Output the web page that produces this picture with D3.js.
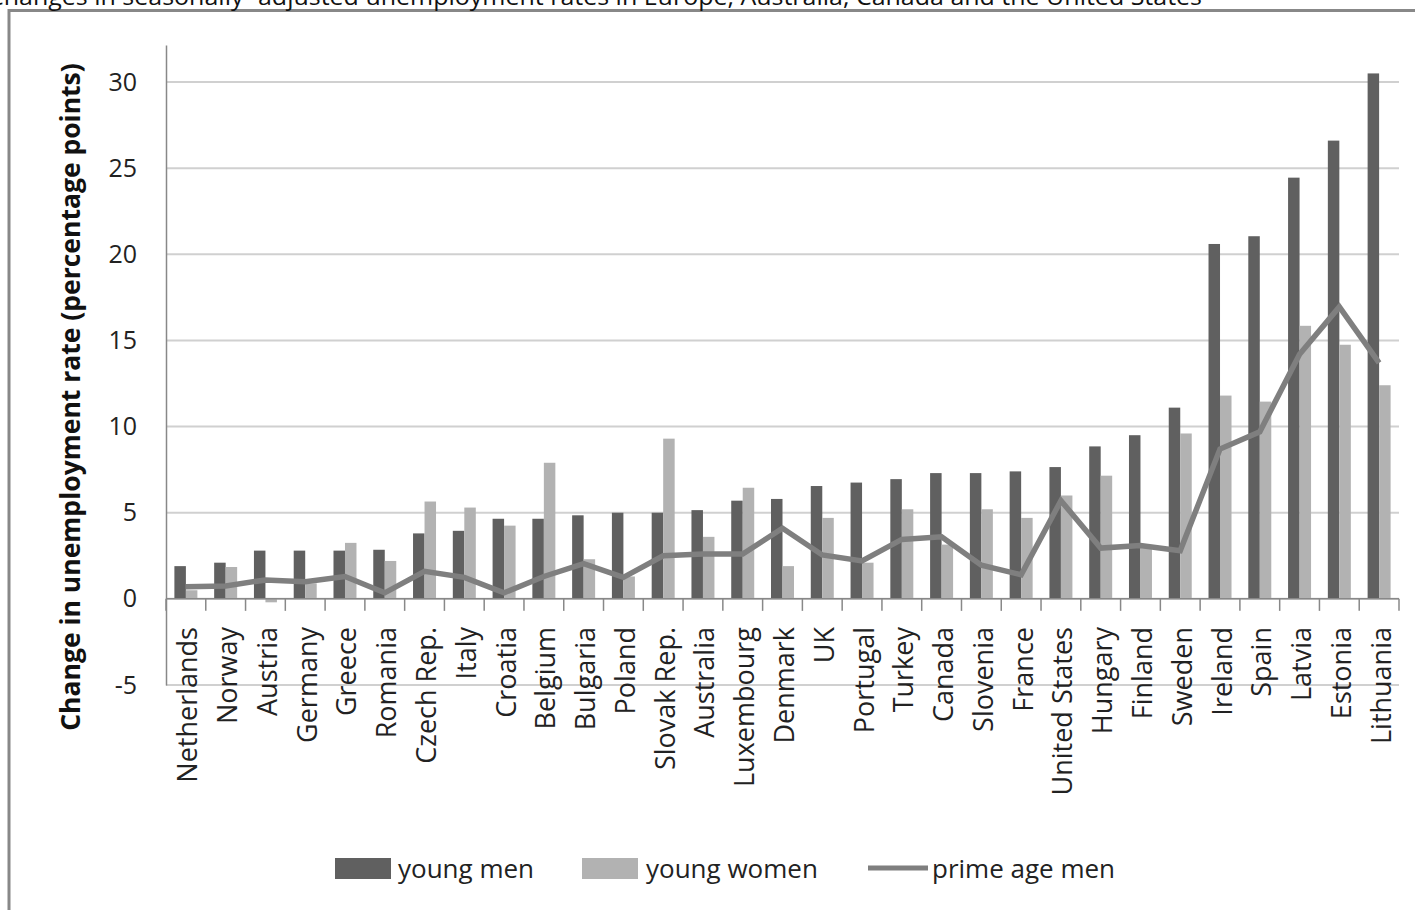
<!DOCTYPE html>
<html>
<head>
<meta charset="utf-8">
<script src="https://cdn.jsdelivr.net/npm/d3@7"></script>
<style>
  html, body { margin: 0; padding: 0; background: #fff; overflow: hidden; }
  svg { display: block; }
</style>
</head>
<body>
<svg id="chart" width="1415" height="910"></svg>
<script>
const titleText = "Changes in seasonally- adjusted unemployment rates in Europe, Australia, Canada and the United States";
const yAxisTitle = "Change in unemployment rate (percentage points)";
const categories = ["Netherlands","Norway","Austria","Germany","Greece","Romania","Czech Rep.","Italy","Croatia","Belgium","Bulgaria","Poland","Slovak Rep.","Australia","Luxembourg","Denmark","UK","Portugal","Turkey","Canada","Slovenia","France","United States","Hungary","Finland","Sweden","Ireland","Spain","Latvia","Estonia","Lithuania"];
const seriesNames = ["young men","young women","prime age men"];
const youngMen = [1.9,2.1,2.8,2.8,2.8,2.85,3.8,3.95,4.65,4.65,4.85,5.0,5.0,5.15,5.7,5.8,6.55,6.75,6.95,7.3,7.3,7.4,7.65,8.85,9.5,11.1,20.6,21.05,24.45,26.6,30.5];
const youngWomen = [0.5,1.85,-0.2,0.9,3.25,2.2,5.65,5.3,4.25,7.9,2.3,1.3,9.3,3.6,6.45,1.9,4.7,2.1,5.2,3.15,5.2,4.7,6.0,7.15,3.1,9.6,11.8,11.45,15.85,14.75,12.4];
const primeAgeMen = [0.7,0.75,1.1,1.0,1.3,0.35,1.6,1.25,0.35,1.3,2.05,1.25,2.5,2.6,2.6,4.1,2.55,2.2,3.45,3.6,1.95,1.4,5.7,2.95,3.1,2.8,8.7,9.7,14.2,16.95,13.7];
const yTicks = [-5,0,5,10,15,20,25,30];
const yTickLabels = ["-5","0","5","10","15","20","25","30"];
const yDomain = [-5, 32.15];

const colors = {"young men":"#606060","young women":"#b2b2b2","prime age men":"#7f7f7f"};

const svg = d3.select("#chart");

// outer frame
svg.append("rect").attr("x",9).attr("y",10.5).attr("width",1500).attr("height",1000)
  .attr("fill","none").attr("stroke","#888").attr("stroke-width",3);

// cut-off title (as in the reference, only its lower part shows)
svg.append("text").attr("x",-12).attr("y",5)
  .attr("font-family","Open Sans").attr("font-size",23)
  .attr("textLength",1214).attr("lengthAdjust","spacingAndGlyphs")
  .attr("fill","#111").text(titleText);

const plotLeft = 166, plotRight = 1399, plotTop = 45, plotBottom = 685;
const x = d3.scaleBand().domain(categories).range([plotLeft,plotRight]).paddingInner(0).paddingOuter(0);
const xs = d3.scaleBand().domain(["young men","young women"]).range([0,x.bandwidth()]).paddingInner(0).paddingOuter(0.73);
const y = d3.scaleLinear().domain(yDomain).range([plotBottom,plotTop]);

// gridlines
svg.append("g").selectAll("line").data(yTicks).join("line")
  .attr("x1",plotLeft).attr("x2",plotRight).attr("y1",d=>y(d)).attr("y2",d=>y(d))
  .attr("stroke","#d0d0d0").attr("stroke-width",2);

// y axis
const yAxis = svg.append("g").attr("transform",`translate(${plotLeft},0)`)
  .call(d3.axisLeft(y).tickValues(yTicks).tickSize(0).tickPadding(29)
    .tickFormat((d,i)=>yTickLabels[i]));
yAxis.select(".domain").attr("stroke","#888").attr("stroke-width",1.5);
yAxis.selectAll("text").attr("font-family","Open Sans").attr("font-size",25).attr("fill","#222");

// bars
const rows = categories.map((c,i)=>({c, vals:[{k:"young men",v:youngMen[i]},{k:"young women",v:youngWomen[i]}]}));
svg.append("g").selectAll("g").data(rows).join("g")
  .attr("transform",d=>`translate(${x(d.c)},0)`)
  .selectAll("rect").data(d=>d.vals).join("rect")
  .attr("x",d=>xs(d.k)).attr("width",xs.bandwidth())
  .attr("y",d=>y(Math.max(0,d.v))).attr("height",d=>Math.abs(y(d.v)-y(0)))
  .attr("fill",d=>colors[d.k]);

// x axis
const y0 = y(0);
svg.append("line").attr("x1",plotLeft).attr("x2",plotRight).attr("y1",y0).attr("y2",y0)
  .attr("stroke","#888").attr("stroke-width",1.5);
const bounds = categories.map(c=>x(c)).concat([plotRight]);
svg.append("g").selectAll("line").data(bounds).join("line")
  .attr("x1",d=>d).attr("x2",d=>d).attr("y1",y0).attr("y2",y0+12)
  .attr("stroke","#888").attr("stroke-width",1.5);

// line
const line = d3.line().x((d,i)=>x(categories[i])+x.bandwidth()/2).y(d=>y(d));
svg.append("path").datum(primeAgeMen).attr("d",line)
  .attr("fill","none").attr("stroke",colors["prime age men"]).attr("stroke-width",5.5)
  .attr("stroke-linejoin","miter");

// category labels
svg.append("g").selectAll("text").data(categories).join("text")
  .attr("transform",c=>`translate(${x(c)+x.bandwidth()/2+1},627) rotate(-90)`)
  .attr("text-anchor","end").attr("dominant-baseline","central")
  .attr("font-family","Open Sans").attr("font-size",27).attr("fill","#222")
  .text(c=>c);

// y axis title
svg.append("text").attr("transform","translate(80,397) rotate(-90)")
  .attr("text-anchor","middle").attr("font-family","Open Sans").attr("font-weight","bold")
  .attr("font-size",26.5).attr("fill","#111").text(yAxisTitle);

// legend
const legend = svg.append("g").attr("font-family","Open Sans").attr("font-size",26).attr("fill","#222");
const legendX = [335,582,868];
const legendTextX = [398,646,932];
seriesNames.forEach((name,i)=>{
  if (i<2) {
    legend.append("rect").attr("x",legendX[i]).attr("y",858).attr("width",56).attr("height",21).attr("fill",colors[name]);
  } else {
    legend.append("line").attr("x1",legendX[i]).attr("x2",legendX[i]+60).attr("y1",868).attr("y2",868)
      .attr("stroke",colors[name]).attr("stroke-width",5);
  }
  legend.append("text").attr("x",legendTextX[i]).attr("y",868).attr("dominant-baseline","central").text(name);
});
</script>
</body>
</html>
